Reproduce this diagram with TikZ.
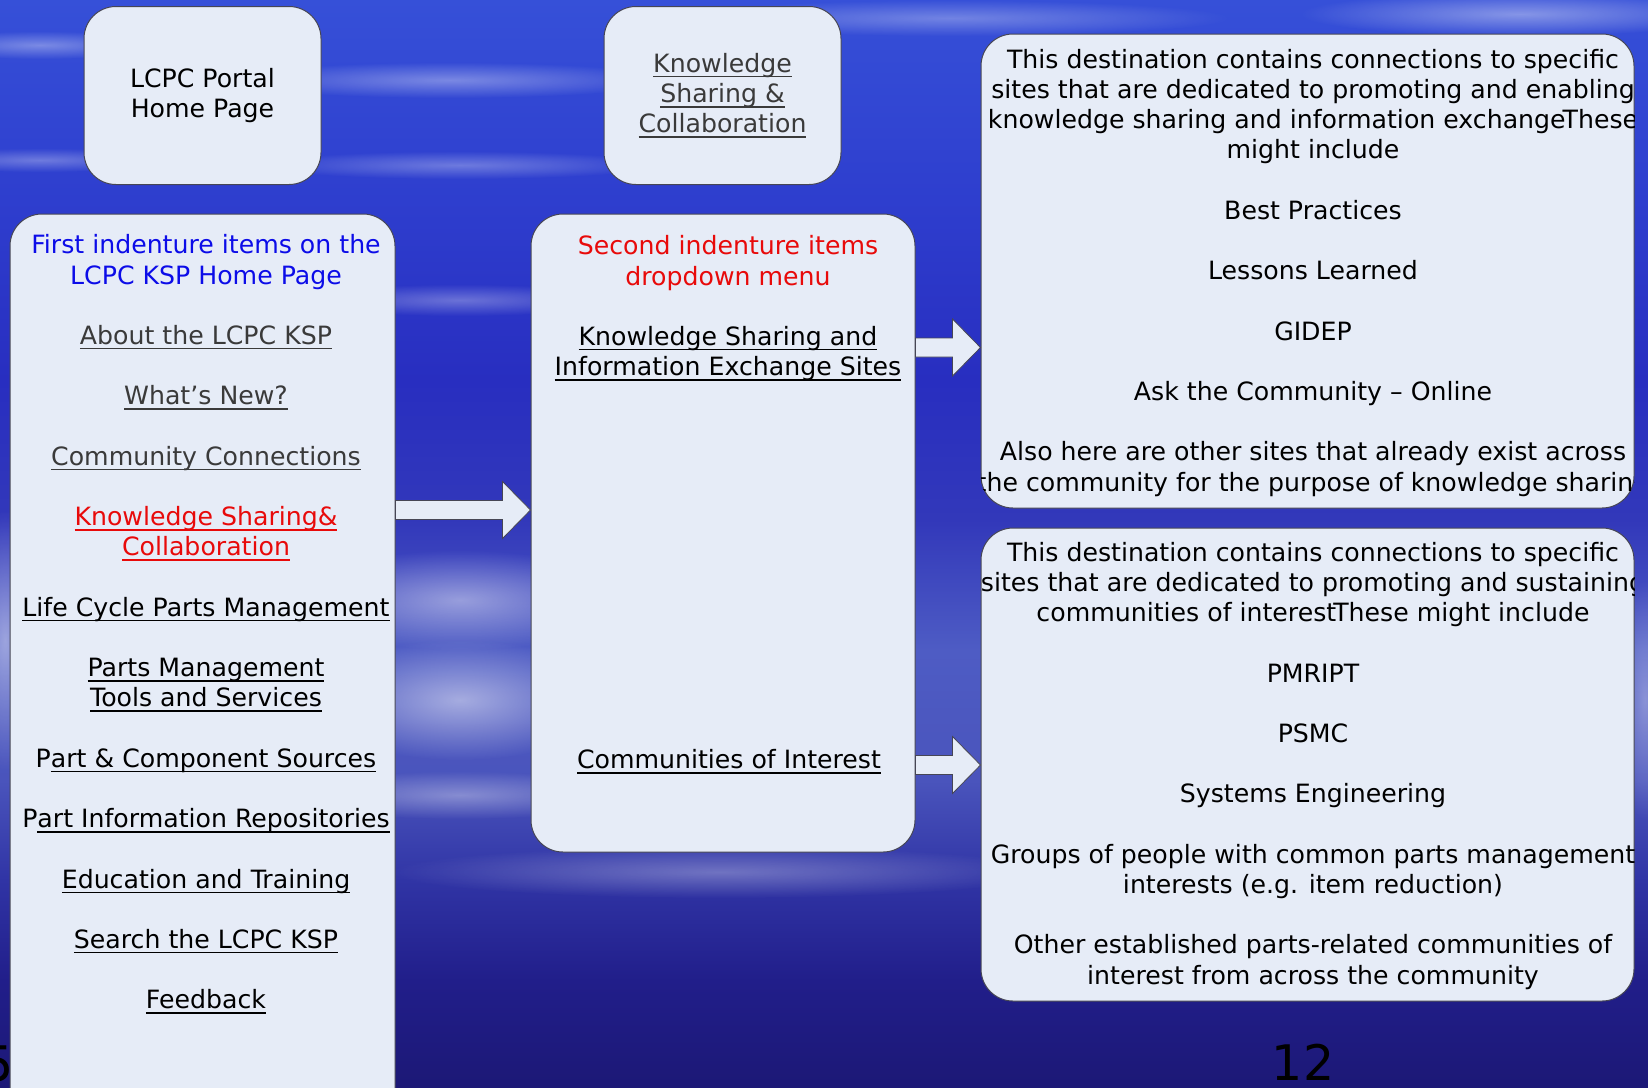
\documentclass[tikz,border=0pt]{standalone}
\usepackage{fontspec}
\setmainfont{DejaVu Sans}
\usetikzlibrary{calc,fadings}

\definecolor{boxfill}{RGB}{230,236,247}
\definecolor{boxline}{RGB}{70,70,85}
\definecolor{headblue}{RGB}{12,12,232}
\definecolor{headred}{RGB}{232,10,10}
\definecolor{linkgray}{RGB}{58,58,58}
\definecolor{skyA}{RGB}{28,24,118}
\definecolor{skyB}{RGB}{33,30,138}
\definecolor{skyC}{RGB}{48,52,165}
\definecolor{skyD}{RGB}{74,84,188}
\definecolor{skyE}{RGB}{78,92,196}
\definecolor{skyF}{RGB}{50,56,186}
\definecolor{skyG}{RGB}{40,46,192}
\definecolor{skyH}{RGB}{46,62,206}
\definecolor{skyI}{RGB}{54,80,216}

\pgfdeclareverticalshading{sky}{100bp}{color(0bp)=(skyA); color(25bp)=(skyA);
  color(29.9bp)=(skyB); color(34.5bp)=(skyC); color(39.1bp)=(skyD);
  color(45.1bp)=(skyE); color(51.1bp)=(skyF); color(57.5bp)=(skyG);
  color(65.8bp)=(skyH); color(75bp)=(skyI); color(100bp)=(skyI)}

\tikzfading[name=glow, inner color=transparent!0, outer color=transparent!100]

\newsavebox{\ulbox}
\newcommand{\uln}[1]{\sbox{\ulbox}{#1}\rlap{\rule[-5pt]{\wd\ulbox}{1.5pt}}\usebox{\ulbox}}
\newcommand{\glink}[1]{\textcolor{linkgray}{\uln{#1}}}
\newcommand{\rlink}[1]{\textcolor{headred}{\uln{#1}}}

\begin{document}
\begin{tikzpicture}[x=1pt,y=-1pt,
    panel/.style={draw=boxline, line width=1pt, fill=boxfill, rounded corners=32pt, inner sep=0pt},
    txt/.style={align=center, inner sep=0pt, anchor=north, font=\fontsize{25.2}{30.2}\selectfont},
    pagenum/.style={inner sep=0pt, anchor=base, text depth=0pt, font=\fontsize{49}{55}\selectfont},
    streak/.style={white, opacity=#1, path fading=glow},
    streak/.default=0.3,
    blockarrow/.style={draw=boxline, line width=0.8pt, fill=boxfill,
      to path={let \p1=(\tikztostart), \p2=(\tikztotarget) in
        (\x1,\y1+9.5pt) -- (\x2-28pt,\y1+9.5pt) -- (\x2-28pt,\y1+28.5pt) -- (\x2,\y1)
        -- (\x2-28pt,\y1-28.5pt) -- (\x2-28pt,\y1-9.5pt) -- (\x1,\y1-9.5pt) -- cycle}}]

  \useasboundingbox (0,0) rectangle (1648,1087);
  \clip (0,0) rectangle (1648,1087);

  % sky
  \shade[shading=sky] (0,0) rectangle (1648,1087);
  \fill[streak=0.35] (40,45) ellipse (120 and 14);
  \fill[streak=0.3] (40,160) ellipse (130 and 12);
  \fill[streak=0.35] (450,80) ellipse (220 and 18);
  \fill[streak=0.3] (460,165) ellipse (200 and 14);
  \fill[streak=0.3] (950,18) ellipse (280 and 18);
  \fill[streak=0.4] (1520,14) ellipse (220 and 22);
  \fill[streak=0.3] (460,300) ellipse (160 and 16);
  \fill[streak=0.45] (460,600) ellipse (170 and 50);
  \fill[streak=0.5] (460,700) ellipse (150 and 60);
  \fill[streak=0.35] (460,795) ellipse (170 and 24);
  \fill[streak=0.3] (720,872) ellipse (330 and 26);
  \fill[streak=0.45] (5,640) ellipse (40 and 130);
  \fill[streak=0.35] (1645,700) ellipse (30 and 120);

  \node[pagenum, anchor=base east] (prevnum) at (14,1081) {5};

  \begin{scope}[every node/.style={panel}]
    \node[minimum width=237pt, minimum height=178pt, align=center,
      font=\fontsize{25.2}{30.2}\selectfont] (portal) at (202.5,95.5) {LCPC Portal\\Home Page};
    \node[minimum width=237pt, minimum height=178pt, align=center,
      font=\fontsize{25.2}{30.2}\selectfont] (ksc) at (722.5,95.5)
      {\glink{Knowledge}\\\glink{Sharing \&}\\\glink{Collaboration}};
    \node[minimum width=385pt, minimum height=916pt] (first) at (202.5,672) {};
    \node[minimum width=384pt, minimum height=638pt] (second) at (723,533) {};
    \node[minimum width=653pt, minimum height=474pt] (destA) at (1307.5,271) {};
    \node[minimum width=653pt, minimum height=473pt] (destB) at (1307.5,764.5) {};
  \end{scope}

  \coordinate (lvA) at (0,510);
  \coordinate (lvB) at (0,347.5);
  \coordinate (lvC) at (0,765);
  \path (first.east |- lvA) edge[blockarrow] (second.west |- lvA);
  \path (second.east |- lvB) edge[blockarrow] (destA.west |- lvB);
  \path (second.east |- lvC) edge[blockarrow] (destB.west |- lvC);

  \node[txt] (firstlist) at (206,234.5) {
    \textcolor{headblue}{First indenture items on the}\\
    \textcolor{headblue}{LCPC KSP Home Page}\\[30.2pt]
    \glink{About the LCPC KSP}\\[30.2pt]
    \glink{What’s New?}\\[30.2pt]
    \glink{Community Connections}\\[30.2pt]
    \rlink{Knowledge Sharing\&}\\
    \rlink{Collaboration}\\[30.2pt]
    \uln{Life Cycle Parts Management}\\[30.2pt]
    \uln{Parts Management}\\
    \uln{Tools and Services}\\[30.2pt]
    P\uln{art \& Component Sources}\\[30.2pt]
    P\uln{art Information Repositories}\\[30.2pt]
    \uln{Education and Training}\\[30.2pt]
    \uln{Search the LCPC KSP}\\[30.2pt]
    \uln{Feedback}};

  \node[txt] (secondlist) at (728,235.5) {
    \textcolor{headred}{Second indenture items}\\
    \textcolor{headred}{dropdown menu}\\[30.2pt]
    \uln{Knowledge Sharing and}\\
    \uln{Information Exchange Sites}};
  \node[txt] (coi) at (729,749.5) {\uln{Communities of Interest}};

  \begin{scope}
    \clip[rounded corners=32pt] (destA.south west) rectangle (destA.north east);
    \node[txt] (destAtext) at (1313,49) {
      This destination contains connections to specific\\
      sites that are dedicated to promoting and enabling\\
      knowledge sharing and information exchange\kern-3pt These\\
      might include\\[30.2pt]
      Best Practices\\[30.2pt]
      Lessons Learned\\[30.2pt]
      GIDEP\\[30.2pt]
      Ask the Community – Online\\[30.2pt]
      Also here are other sites that already exist across\\
      the community for the purpose of knowledge sharing};
  \end{scope}

  \begin{scope}
    \clip[rounded corners=32pt] (destB.south west) rectangle (destB.north east);
    \node[txt] (destBtext) at (1313,542) {
      This destination contains connections to specific\\
      sites that are dedicated to promoting and sustaining\\
      communities of interest\kern-3pt These might include\\[30.2pt]
      PMRIPT\\[30.2pt]
      PSMC\\[30.2pt]
      Systems Engineering\\[30.2pt]
      Groups of people with common parts management\\
      interests (e.g. item reduction)\\[30.2pt]
      Other established parts-related communities of\\
      interest from across the community};
  \end{scope}

  \node[pagenum] (pagenum) at (1303,1080) {12};

\end{tikzpicture}
\end{document}
